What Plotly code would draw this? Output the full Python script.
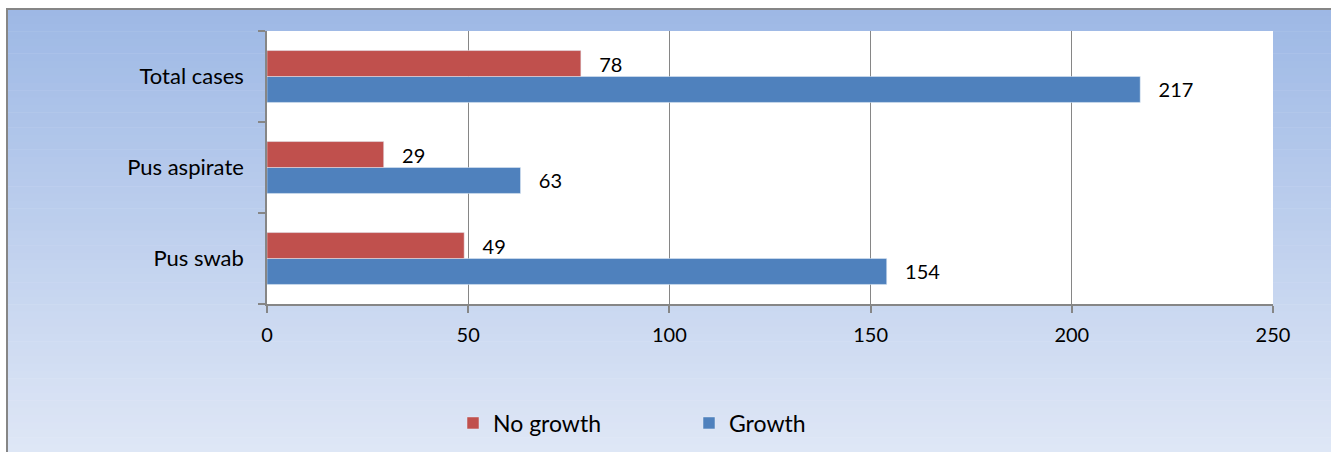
import plotly.graph_objects as go

categories = ["Pus swab", "Pus aspirate", "Total cases"]
no_growth = [49, 29, 78]
growth = [154, 63, 217]
x_ticks = [0, 50, 100, 150, 200, 250]

W, H = 1331, 452
L, R, T, B = 267, 1273, 31, 304
FONT = "Lato"
GRAY = "#868686"

def px_x(p):
    return (p - L) / (R - L)

def px_y(p):
    return (B - p) / (B - T)

fig = go.Figure()
fig.add_trace(go.Bar(
    y=categories, x=growth, orientation="h", name="Growth",
    marker=dict(color="#4F81BD"),
    text=growth, texttemplate="\u00a0\u00a0\u00a0%{text}", textposition="outside",
    textfont=dict(family=FONT, size=20, color="#000"), cliponaxis=False,
))
fig.add_trace(go.Bar(
    y=categories, x=no_growth, orientation="h", name="No growth",
    marker=dict(color="#C0504D"),
    text=no_growth, texttemplate="\u00a0\u00a0\u00a0%{text}", textposition="outside",
    textfont=dict(family=FONT, size=20, color="#000"), cliponaxis=False,
))

# gradient background
shapes = []
top_c = (157, 184, 229)
bot_c = (223, 231, 246)
y0, y1 = 9, H
n = 60
for i in range(n):
    a = y0 + (y1 - y0) * i / n
    b = y0 + (y1 - y0) * (i + 1) / n
    t = (i + 0.5) / n
    c = tuple(round(top_c[k] + (bot_c[k] - top_c[k]) * t) for k in range(3))
    shapes.append(dict(type="rect", xref="paper", yref="paper",
                       x0=px_x(8), x1=px_x(W + 5), y0=px_y(a), y1=px_y(b + 0.5),
                       fillcolor="rgb(%d,%d,%d)" % c, line=dict(width=0), layer="below"))
# plot area white
shapes.append(dict(type="rect", xref="paper", yref="paper", x0=0, x1=1, y0=0, y1=1,
                   fillcolor="white", line=dict(width=0), layer="below"))
# outer border
shapes.append(dict(type="path", xref="paper", yref="paper",
                   path="M %f %f L %f %f L %f %f" % (px_x(7), px_y(H + 5), px_x(7), px_y(9), px_x(W + 5), px_y(9)),
                   line=dict(color=GRAY, width=2), layer="above"))

fig.update_layout(
    width=W, height=H,
    margin=dict(l=L, r=W - R, t=T, b=H - B, pad=0, autoexpand=False),
    paper_bgcolor="white", plot_bgcolor="rgba(0,0,0,0)",
    barmode="group", bargap=0.43, bargroupgap=0,
    shapes=shapes,
    font=dict(family=FONT, size=20, color="#000"),
    showlegend=True,
    legend=dict(orientation="h", traceorder="reversed",
                xref="container", x=453 / W, xanchor="left",
                yref="container", y=(H - 423) / H, yanchor="middle",
                font=dict(family=FONT, size=23, color="#000"),
                bgcolor="rgba(0,0,0,0)", entrywidth=191, entrywidthmode="pixels"),
    xaxis=dict(range=[0, 250], tickvals=x_ticks, showgrid=True, gridcolor=GRAY, gridwidth=1,
               showline=True, linecolor=GRAY, linewidth=1.5, ticks="outside", ticklen=7,
               tickcolor=GRAY, tickwidth=1.5, zeroline=False, ticklabelstandoff=5,
               tickfont=dict(family=FONT, size=20, color="#000"), fixedrange=True, automargin=False),
    yaxis=dict(type="category", categoryarray=categories, tickson="boundaries",
               showline=True, linecolor=GRAY, linewidth=1.5, ticks="outside", ticklen=7,
               tickcolor=GRAY, tickwidth=1.5, showgrid=False, ticklabelstandoff=17,
               tickfont=dict(family=FONT, size=22, color="#000"), fixedrange=True, automargin=False),
)

fig.write_html("out.html")
